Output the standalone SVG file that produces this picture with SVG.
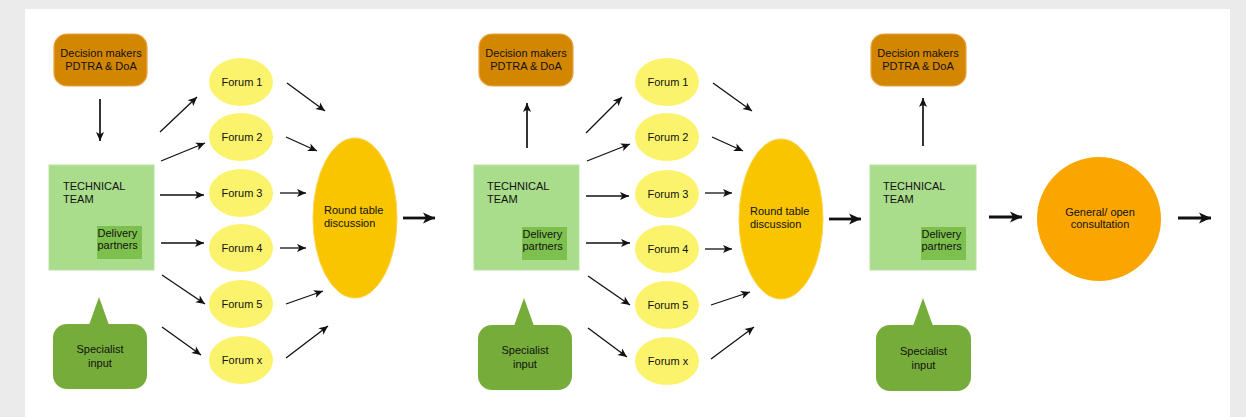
<svg xmlns="http://www.w3.org/2000/svg" width="1246" height="417" viewBox="0 0 1246 417">
<style>
text{font-family:"Liberation Sans",Arial,sans-serif;font-size:11px;fill:#111}
.c{text-anchor:middle}
.dm{fill:#d38600;stroke:#e9a540;stroke-width:1.2}
.tt{fill:#a9dc8b;stroke:#b9e49f;stroke-width:1}
.dp{fill:#7ec04e}
.sp{fill:#76ad3a}
.fo{fill:#fcf36c}
.rt{fill:#f8c500;stroke:#fbd54a;stroke-width:1}
.ge{fill:#fba600}
.a{stroke:#111;stroke-width:1.3;fill:none;marker-end:url(#ah)}
.b{stroke:#111;stroke-width:2.8;fill:none;marker-end:url(#bh)}
.v{stroke:#111;stroke-width:1.7;fill:none;marker-end:url(#ah)}
</style>
<defs>
<marker id="ah" viewBox="0 0 10 10" refX="10" refY="5" markerWidth="10" markerHeight="9" markerUnits="userSpaceOnUse" orient="auto">
<path d="M0,0.5 L10,5 L0,9.5 L2.5,5 z" fill="#111"/>
</marker>
<marker id="bh" viewBox="0 0 10 10" refX="10" refY="5" markerWidth="13" markerHeight="12" markerUnits="userSpaceOnUse" orient="auto">
<path d="M0,0.5 L10,5 L0,9.5 L2.5,5 z" fill="#111"/>
</marker>
</defs>
<rect x="0" y="0" width="1246" height="417" fill="#ebebeb"/>
<rect x="25" y="9" width="1205" height="410" fill="#ffffff"/>

<!-- Panel 1 -->
<g id="dm1"><rect class="dm" x="54" y="34" width="93" height="52" rx="13"/><text class="c" x="101" y="57">Decision makers</text><text class="c" x="101" y="70">PDTRA &amp; DoA</text></g>
<g id="tt1"><rect class="tt" x="49" y="165" width="105" height="105"/><text x="63" y="190">TECHNICAL</text><text x="63" y="203">TEAM</text>
<rect class="dp" x="97" y="226" width="45" height="33"/><text x="97.5" y="237">Delivery</text><text x="97.5" y="249">partners</text></g>
<g id="sp1"><rect class="sp" x="53" y="324" width="94" height="65" rx="14"/><path class="sp" d="M89,325 L99,297 L109,325 z"/><text class="c" x="100" y="353">Specialist</text><text class="c" x="100" y="367">input</text></g>
<g id="f1_1"><ellipse class="fo" cx="241" cy="82" rx="32" ry="24"/><text class="c" x="242" y="86">Forum 1</text></g>
<g id="f1_2"><ellipse class="fo" cx="241" cy="137" rx="32" ry="24"/><text class="c" x="242" y="141">Forum 2</text></g>
<g id="f1_3"><ellipse class="fo" cx="241" cy="193" rx="32" ry="24"/><text class="c" x="242" y="197">Forum 3</text></g>
<g id="f1_4"><ellipse class="fo" cx="241" cy="248" rx="32" ry="24"/><text class="c" x="242" y="252">Forum 4</text></g>
<g id="f1_5"><ellipse class="fo" cx="241" cy="304" rx="32" ry="24"/><text class="c" x="242" y="308">Forum 5</text></g>
<g id="f1_x"><ellipse class="fo" cx="241" cy="360" rx="32" ry="24"/><text class="c" x="242" y="364">Forum x</text></g>
<g id="rt1"><ellipse class="rt" cx="355" cy="218" rx="42" ry="80"/><text x="324" y="214">Round table</text><text x="324" y="227">discussion</text></g>

<!-- Panel 2 -->
<g id="dm2"><rect class="dm" x="479" y="34" width="94" height="52" rx="13"/><text class="c" x="526" y="57">Decision makers</text><text class="c" x="526" y="70">PDTRA &amp; DoA</text></g>
<g id="tt2"><rect class="tt" x="474" y="165" width="105" height="105"/><text x="487" y="190">TECHNICAL</text><text x="487" y="203">TEAM</text>
<rect class="dp" x="522" y="227" width="45" height="33"/><text x="522.5" y="238">Delivery</text><text x="522.5" y="250">partners</text></g>
<g id="sp2"><rect class="sp" x="478" y="325" width="94" height="65" rx="14"/><path class="sp" d="M514,326 L524,298 L534,326 z"/><text class="c" x="525" y="354">Specialist</text><text class="c" x="525" y="368">input</text></g>
<g id="f2_1"><ellipse class="fo" cx="667" cy="82" rx="32" ry="24"/><text class="c" x="668" y="86">Forum 1</text></g>
<g id="f2_2"><ellipse class="fo" cx="667" cy="137" rx="32" ry="24"/><text class="c" x="668" y="141">Forum 2</text></g>
<g id="f2_3"><ellipse class="fo" cx="667" cy="194" rx="32" ry="24"/><text class="c" x="668" y="198">Forum 3</text></g>
<g id="f2_4"><ellipse class="fo" cx="667" cy="249" rx="32" ry="24"/><text class="c" x="668" y="253">Forum 4</text></g>
<g id="f2_5"><ellipse class="fo" cx="667" cy="305" rx="32" ry="24"/><text class="c" x="668" y="309">Forum 5</text></g>
<g id="f2_x"><ellipse class="fo" cx="667" cy="361" rx="32" ry="24"/><text class="c" x="668" y="365">Forum x</text></g>
<g id="rt2"><ellipse class="rt" cx="781" cy="219" rx="42" ry="80"/><text x="750" y="215">Round table</text><text x="750" y="228">discussion</text></g>

<!-- Panel 3 -->
<g id="dm3"><rect class="dm" x="871" y="34" width="95" height="52" rx="13"/><text class="c" x="918" y="57">Decision makers</text><text class="c" x="918" y="70">PDTRA &amp; DoA</text></g>
<g id="tt3"><rect class="tt" x="870" y="165" width="106" height="105"/><text x="883" y="190">TECHNICAL</text><text x="883" y="203">TEAM</text>
<rect class="dp" x="921" y="227" width="45" height="33"/><text x="921.5" y="238">Delivery</text><text x="921.5" y="250">partners</text></g>
<g id="sp3"><rect class="sp" x="876" y="325" width="95" height="66" rx="14"/><path class="sp" d="M913,326 L923,298 L933,326 z"/><text class="c" x="923.5" y="355">Specialist</text><text class="c" x="923.5" y="369">input</text></g>
<g id="ge"><circle class="ge" cx="1099" cy="219" r="62"/><text class="c" x="1100" y="216">General/ open</text><text class="c" x="1100" y="228">consultation</text></g>

<g id="connectors">
<path class="v" d="M100,99 L100,141"/>
<path class="a" d="M160,132 L197,97"/>
<path class="a" d="M161,161 L205,143"/>
<path class="a" d="M160,195 L204,195"/>
<path class="a" d="M161,243 L204,243"/>
<path class="a" d="M162,275 L205,304"/>
<path class="a" d="M162,327 L201,355"/>
<path class="a" d="M287,83 L325,111"/>
<path class="a" d="M286,137 L317,151"/>
<path class="a" d="M280,193 L306,193"/>
<path class="a" d="M280,248 L306,248"/>
<path class="a" d="M286,304 L323,291"/>
<path class="a" d="M286,358 L328,326"/>
<path class="b" d="M403,218 L435,218"/>

<path class="v" d="M527,148 L527,103"/>
<path class="a" d="M586,133 L622,97"/>
<path class="a" d="M587,161 L630,144"/>
<path class="a" d="M586,196 L629,196"/>
<path class="a" d="M586,243 L630,243"/>
<path class="a" d="M588,276 L630,305"/>
<path class="a" d="M588,328 L627,357"/>
<path class="a" d="M713,83 L752,111"/>
<path class="a" d="M712,137 L743,151"/>
<path class="a" d="M705,193 L732,193"/>
<path class="a" d="M705,249 L732,249"/>
<path class="a" d="M711,305 L750,292"/>
<path class="a" d="M711,359 L754,327"/>
<path class="b" d="M829,219 L861,219"/>

<path class="v" d="M923,146 L923,98"/>
<path class="b" d="M989,217 L1022,217"/>
<path class="b" d="M1178,218 L1211,218"/>
</g>
</svg>
